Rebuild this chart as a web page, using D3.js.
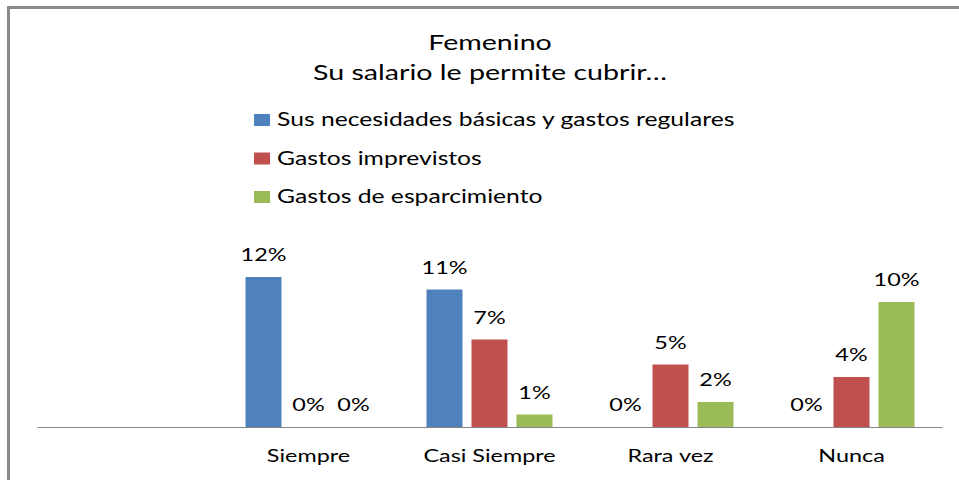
<!DOCTYPE html>
<html>
<head>
<meta charset="utf-8">
<script src="https://cdn.jsdelivr.net/npm/d3@7"></script>
<style>
  html, body { margin: 0; padding: 0; background: #fff; }
  svg { display: block; }
  text { font-family: Lato, "Open Sans", sans-serif; fill: #000; }
</style>
</head>
<body>
<svg id="chart" width="959" height="480"></svg>
<script>
const titleLines = ["Femenino", "Su salario le permite cubrir…"];
const categories = ["", "Siempre", "Casi Siempre", "Rara vez", "Nunca"];
const seriesNames = ["Sus necesidades básicas y gastos regulares", "Gastos imprevistos", "Gastos de esparcimiento"];
const seriesColors = ["#4F81BD", "#C0504D", "#9BBB59"];
const necesidades = [null, 12, 11, 0, 0];
const imprevistos = [null, 0, 7, 5, 4];
const esparcimiento = [null, 0, 1, 2, 10];
const seriesValues = [necesidades, imprevistos, esparcimiento];

const svg = d3.select("#chart");
const SX = 1.3;

// frame (top and left edges)
svg.append("path")
  .attr("d", "M8.5,480 V7.5 H959")
  .attr("fill", "none")
  .attr("stroke", "#8a8a8a")
  .attr("stroke-width", 3);

// title
const title = svg.append("g");
title.selectAll("text").data(titleLines).join("text")
  .attr("transform", (d, i) => `translate(490,${[50, 80][i]}) scale(1.3,1)`)
  .attr("text-anchor", "middle")
  .style("font-size", "22px")
  .text(d => d);

// legend
const legend = svg.append("g");
const lg = legend.selectAll("g").data(seriesNames).join("g")
  .attr("transform", (d, i) => `translate(254,${126 + i * 38.5})`);
lg.append("rect").attr("x", 0).attr("y", -12).attr("width", 16).attr("height", 12)
  .attr("fill", (d, i) => seriesColors[i]);
lg.append("text").attr("transform", `translate(23,0) scale(${SX},1)`)
  .style("font-size", "19px").text(d => d);

// scales
const baseY = 427;
const x0 = d3.scaleBand().domain(categories).range([37, 942]).paddingInner(0).paddingOuter(0);
const x1 = d3.scaleBand().domain(d3.range(seriesNames.length))
  .range([0, x0.bandwidth()]).paddingInner(0.2).paddingOuter(0.611);
const y = d3.scaleLinear().domain([0, 14]).range([baseY, baseY - 175]);

// bars
const groups = svg.append("g").selectAll("g")
  .data(categories.map((c, ci) => ({ c, vals: seriesValues.map((s, si) => ({ si, v: s[ci] })) })))
  .join("g")
  .attr("transform", d => `translate(${x0(d.c)},0)`);

groups.selectAll("rect").data(d => d.vals.filter(v => v.v !== null)).join("rect")
  .attr("x", d => x1(d.si))
  .attr("width", x1.bandwidth())
  .attr("y", d => y(d.v))
  .attr("height", d => baseY - y(d.v))
  .attr("fill", d => seriesColors[d.si]);

groups.selectAll("text").data(d => d.vals.filter(v => v.v !== null)).join("text")
  .attr("transform", d => `translate(${x1(d.si) + x1.bandwidth() / 2},${y(d.v) - 16}) scale(${SX},1)`)
  .attr("text-anchor", "middle")
  .style("font-size", "18px")
  .text(d => d.v + "%");

// axis
const axis = svg.append("g").attr("transform", `translate(0,${baseY})`)
  .call(d3.axisBottom(x0).tickSize(0).tickSizeOuter(0).tickPadding(0));
axis.select(".domain").attr("stroke", "#868686").attr("stroke-width", 1);
axis.selectAll(".tick text")
  .attr("y", 35).attr("dy", 0)
  .attr("transform", `scale(${SX},1)`)
  .style("font-size", "18px")
  .style("font-family", "Lato, 'Open Sans', sans-serif")
  .attr("fill", "#000");
</script>
</body>
</html>
